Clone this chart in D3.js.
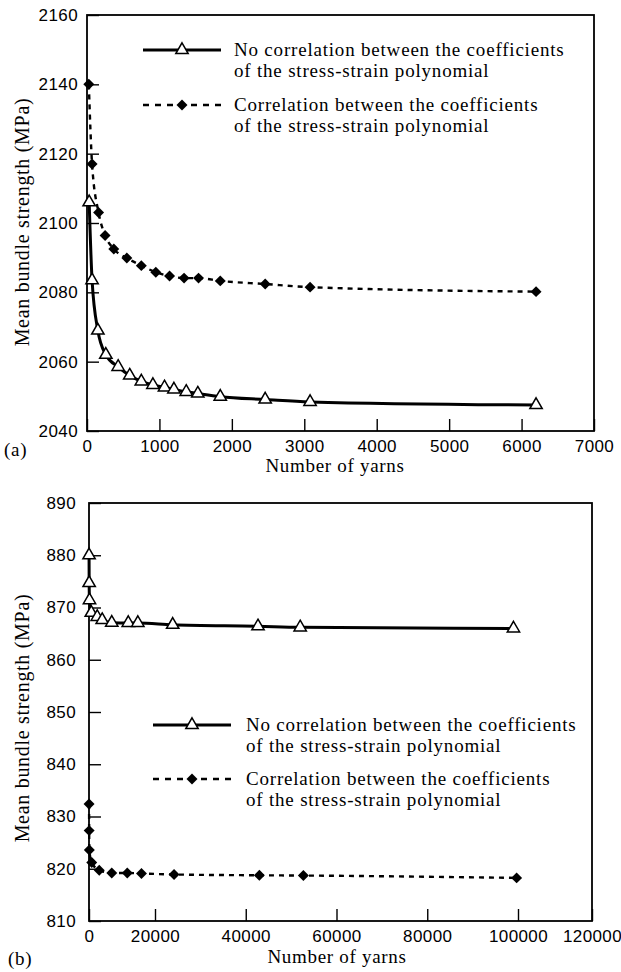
<!DOCTYPE html>
<html>
<head>
<meta charset="utf-8">
<script src="https://cdnjs.cloudflare.com/ajax/libs/d3/7.8.5/d3.min.js"></script>
<style>
  body { margin: 0; background: #fff; }
  svg { display: block; font-family: "Liberation Serif", "Times New Roman", serif; }
  .tick text { font-size: 17px; letter-spacing: 0.4px; fill: #000; }
  .tick line { stroke: #000; stroke-width: 1.4; }
  .label { font-size: 19px; letter-spacing: 0.7px; fill: #000; }
  .legend text { font-size: 19px; letter-spacing: 0.8px; fill: #000; }
</style>
</head>
<body>
<svg id="chart" width="621" height="972"></svg>
<script>
// (a) number of yarns vs mean bundle strength
var aYarnsNo = [30, 70, 150, 260, 430, 590, 750, 910, 1070, 1200, 1370, 1530, 1840, 2460, 3080, 6200];
var aStrengthNo = [2106, 2083.5, 2069, 2062, 2058.5, 2056, 2054.3, 2053.3, 2052.6, 2052, 2051.3, 2050.8, 2049.9, 2049.1, 2048.4, 2047.5];
var aYarnsCorr = [25, 70, 160, 250, 370, 550, 750, 950, 1140, 1340, 1540, 1840, 2460, 3080, 6200];
var aStrengthCorr = [2140, 2117, 2103, 2096.4, 2092.5, 2089.9, 2087.7, 2085.8, 2084.7, 2084.1, 2084.1, 2083.3, 2082.4, 2081.5, 2080.2];
var aXTicks = [0, 1000, 2000, 3000, 4000, 5000, 6000, 7000];
var aYTicks = [2040, 2060, 2080, 2100, 2120, 2140, 2160];

// (b)
var bYarnsNo = [20, 50, 150, 700, 2500, 4000, 6900, 11900, 14800, 23900, 42700, 52000, 99000];
var bStrengthNo = [880, 874.7, 871.4, 869, 868.2, 867.6, 867.1, 867.05, 867.05, 866.7, 866.4, 866.2, 866.0];
var bYarnsCorr = [20, 50, 100, 830, 3100, 6900, 11600, 15900, 24200, 43000, 52700, 99700];
var bStrengthCorr = [832.4, 827.3, 823.6, 821.2, 819.7, 819.2, 819.2, 819.1, 818.9, 818.75, 818.7, 818.25];
var bXTicks = [0, 20000, 40000, 60000, 80000, 100000, 120000];
var bYTicks = [810, 820, 830, 840, 850, 860, 870, 880, 890];

var legendLines = [
  ["No correlation between the coefficients", "of the stress-strain polynomial"],
  ["Correlation between the coefficients", "of the stress-strain polynomial"]
];

var svg = d3.select("#chart");

function zip(xs, ys) {
  return xs.map(function(x, i) { return {x: x, y: ys[i]}; });
}

function drawPanel(p) {
  var g = svg.append("g");
  var x = p.xScale, y = p.yScale;
  var x0 = x.range()[0], x1 = x.range()[x.range().length - 1];
  var y0 = y.range()[0], y1 = y.range()[1];

  g.append("g")
      .attr("class", "x axis")
      .attr("transform", "translate(0," + y0 + ")")
      .call(d3.axisBottom(x).tickValues(p.xTicks).tickSize(-12).tickPadding(9).tickFormat(d3.format("d")))
      .call(function(a) { a.select(".domain").remove(); });

  g.append("g")
      .attr("class", "y axis")
      .attr("transform", "translate(" + x0 + ",0)")
      .call(d3.axisLeft(y).tickValues(p.yTicks).tickSize(-12).tickPadding(p.yPad).tickFormat(d3.format("d")))
      .call(function(a) { a.select(".domain").remove(); });

  g.selectAll(".tick text").attr("font-family", null).attr("font-size", null);

  g.append("rect")
      .attr("x", x0).attr("y", y1)
      .attr("width", x1 - x0).attr("height", y0 - y1)
      .attr("fill", "none").attr("stroke", "#000").attr("stroke-width", 1.8);

  var line = d3.line()
      .x(function(d) { return x(d.x); })
      .y(function(d) { return y(d.y); })
      .curve(d3.curveMonotoneX);

  var noCorr = zip(p.noX, p.noY), corr = zip(p.corrX, p.corrY);

  g.append("path").datum(corr)
      .attr("d", line).attr("fill", "none")
      .attr("stroke", "#000").attr("stroke-width", 2.4).attr("stroke-dasharray", "5,5");

  g.append("path").datum(noCorr)
      .attr("d", line).attr("fill", "none")
      .attr("stroke", "#000").attr("stroke-width", 3);

  var tri = d3.symbol().type(d3.symbolTriangle).size(66);
  var dia = d3.symbol().type(d3.symbolSquare).size(60);

  g.selectAll(".dia").data(corr).enter().append("path")
      .attr("class", "dia")
      .attr("d", dia)
      .attr("transform", function(d) { return "translate(" + x(d.x) + "," + y(d.y) + ") rotate(45)"; })
      .attr("fill", "#000");

  g.selectAll(".tri").data(noCorr).enter().append("path")
      .attr("class", "tri")
      .attr("d", tri)
      .attr("transform", function(d) { return "translate(" + x(d.x) + "," + y(d.y) + ")"; })
      .attr("fill", "#fff").attr("stroke", "#000").attr("stroke-width", 1.5);

  // axis titles
  g.append("text")
      .attr("class", "label")
      .attr("x", p.xTitle[0]).attr("y", p.xTitle[1])
      .style("text-anchor", "middle")
      .text("Number of yarns");

  g.append("text")
      .attr("class", "label")
      .attr("transform", "translate(" + p.yTitle[0] + "," + p.yTitle[1] + ") rotate(-90)")
      .style("text-anchor", "middle")
      .style("font-size", "20px")
      .text("Mean bundle strength (MPa)");

  g.append("text")
      .attr("class", "label")
      .attr("x", p.tag[0]).attr("y", p.tag[1])
      .text(p.tagText);

  // legend
  var leg = g.append("g").attr("class", "legend");
  var L = p.legend;
  leg.append("line")
      .attr("x1", L.x1).attr("x2", L.x2).attr("y1", L.y[0]).attr("y2", L.y[0])
      .attr("stroke", "#000").attr("stroke-width", 3);
  leg.append("path")
      .attr("d", tri)
      .attr("transform", "translate(" + L.mx + "," + L.y[0] + ")")
      .attr("fill", "#fff").attr("stroke", "#000").attr("stroke-width", 1.5);
  leg.append("line")
      .attr("x1", L.x1).attr("x2", L.x2).attr("y1", L.y[1]).attr("y2", L.y[1])
      .attr("stroke", "#000").attr("stroke-width", 2.4).attr("stroke-dasharray", "6,6");
  leg.append("path")
      .attr("d", dia)
      .attr("transform", "translate(" + L.mx + "," + L.y[1] + ") rotate(45)")
      .attr("fill", "#000");

  legendLines.forEach(function(lines, i) {
    lines.forEach(function(t, j) {
      leg.append("text")
          .attr("x", L.tx)
          .attr("y", L.y[i] + 6 + j * 20.5)
          .text(t);
    });
  });
}

drawPanel({
  xScale: d3.scaleLinear().domain([0, 7000]).range([87, 594]),
  yScale: d3.scaleLinear().domain([2040, 2160]).range([431, 15]),
  xTicks: aXTicks, yTicks: aYTicks, yPad: 9,
  noX: aYarnsNo, noY: aStrengthNo, corrX: aYarnsCorr, corrY: aStrengthCorr,
  xTitle: [335, 472], yTitle: [29, 222], tag: [4, 456], tagText: "(a)",
  legend: {x1: 143, x2: 221, mx: 182, tx: 234, y: [50, 105]}
});

drawPanel({
  xScale: d3.scaleLinear().domain([0, 20000, 100000, 120000]).range([89, 155, 518, 592]),
  yScale: d3.scaleLinear().domain([810, 890]).range([921, 503]),
  xTicks: bXTicks, yTicks: bYTicks, yPad: 13,
  noX: bYarnsNo, noY: bStrengthNo, corrX: bYarnsCorr, corrY: bStrengthCorr,
  xTitle: [337, 963], yTitle: [29, 718], tag: [8, 965], tagText: "(b)",
  legend: {x1: 153, x2: 231, mx: 192, tx: 246, y: [725, 779]}
});
</script>
</body>
</html>
